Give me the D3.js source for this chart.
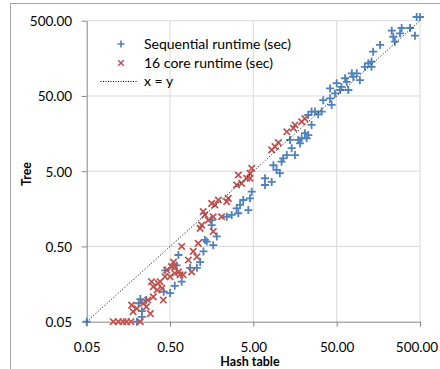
<!DOCTYPE html>
<html>
<head>
<meta charset="utf-8">
<script src="https://cdn.jsdelivr.net/npm/d3@7"></script>
<style>
  html, body { margin: 0; padding: 0; background: #fff; }
  svg { display: block; }
  text { font-family: Lato, "Open Sans", sans-serif; }
</style>
</head>
<body>
<svg id="chart" width="440" height="369"></svg>
<script>
// ---- data ----
const tickValues = [0.05, 0.5, 5, 50, 500];
const seriesNames = ["Sequential runtime (sec)", "16 core runtime (sec)", "x = y"];

const seqHash = [0.05,0.20,0.23,0.23,0.21,0.26,0.22,0.44,0.42,0.50,0.57,0.69,0.63,0.60,0.87,1.05,1.15,1.26,1.38,1.65,1.82,1.58,1.58,1.31,2.4,2.75,3.3,3.15,3.46,4.35,3.78,4.56,4.78,6.9,6.9,8.3,8.7,9.5,10.4,10.9,11.4,12.6,15.8,14.4,13.8,18.2,17.3,21.8,19,20.8,22.8,25,22.8,25,27.5,30,33,34.5,41.6,43.5,41.6,47.7,50,57,55,69,63,66,76,87,79,95,109,131,120,131,137,166,229,239,250,288,301,380,435,456,500];
const seqTree = [0.05,0.05,0.058,0.069,0.088,0.097,0.10,0.24,0.125,0.12,0.15,0.17,0.385,0.28,0.26,0.26,0.31,0.43,0.58,0.52,0.68,1.12,0.96,0.61,1.24,1.31,1.38,1.6,1.78,1.52,2.07,2.18,2.67,3.28,4.03,3.6,6.0,5.2,4.7,6.7,7.4,8.2,8.2,10.1,13,11.7,13,13.7,13.7,16,15.1,20.6,27.9,31,31,28.5,31,44,46.5,38,63,54,74,66,60,60,86,77,100,100,90,81,122,122,136,143,194,238,368,306,263,340,400,400,316,560,560];

const coreHash = [0.104,0.12,0.136,0.15,0.17,0.22,0.29,0.20,0.18,0.173,0.24,0.27,0.26,0.315,0.415,0.35,0.40,0.30,0.38,0.315,0.36,0.435,0.50,0.57,0.66,0.72,0.456,0.52,0.55,0.57,0.63,0.69,0.91,0.83,1.05,0.95,1.09,1.15,1.2,1.31,1.25,1.44,1.65,1.58,1.73,1.9,1.65,2.08,2.39,2.5,3.15,3.62,3.3,4.16,4.56,4.56,4.78,8.3,9.1,10,12.6,15.1,15.8,19,20.8];
const coreTree = [0.05,0.05,0.05,0.05,0.05,0.05,0.064,0.075,0.068,0.083,0.088,0.097,0.079,0.107,0.097,0.132,0.139,0.17,0.17,0.146,0.162,0.198,0.198,0.22,0.21,0.21,0.243,0.27,0.31,0.27,0.23,0.50,0.23,0.33,0.365,0.43,0.55,0.87,0.96,1.31,1.45,1.12,1.24,1.87,1.78,2.07,0.79,1.24,1.97,2.18,3.28,3.45,4.45,4.03,4.03,4.69,5.46,9.6,10.6,12,16.7,18.7,20.6,22.7,25];

const identityLine = [0.05, 500];

// ---- layout ----
const svg = d3.select("#chart");
const plot = { left: 86.7, right: 420, top: 20.7, bottom: 321.7 };
const blue = "#4F81BD", red = "#C0504D";

const x = d3.scaleLog().domain([0.05, 500]).range([plot.left, plot.right]);
const y = d3.scaleLog().domain([0.05, 500]).range([plot.bottom, plot.top]);
const fmt = d3.format(".2f");

// chart border
svg.append("rect").attr("x", 10.5).attr("y", 3.5).attr("width", 460).attr("height", 400)
  .attr("fill", "none").attr("stroke", "#a6a6a6").attr("stroke-width", 1);

// gridlines
const grid = svg.append("g");
grid.selectAll("line.v").data(tickValues.slice(1)).join("line")
  .attr("x1", d => x(d)).attr("x2", d => x(d))
  .attr("y1", plot.top).attr("y2", plot.bottom)
  .attr("stroke", "#d9d9d9").attr("stroke-width", 1);
grid.selectAll("line.h").data(tickValues.slice(1)).join("line")
  .attr("y1", d => y(d)).attr("y2", d => y(d))
  .attr("x1", plot.left).attr("x2", plot.right)
  .attr("stroke", "#d9d9d9").attr("stroke-width", 1);

// axes
const xAxis = svg.append("g").attr("transform", `translate(0,${plot.bottom})`)
  .call(d3.axisBottom(x).tickValues(tickValues).tickFormat(fmt).tickSize(5).tickSizeOuter(0));
const yAxis = svg.append("g").attr("transform", `translate(${plot.left},0)`)
  .call(d3.axisLeft(y).tickValues(tickValues).tickFormat(fmt).tickSize(5).tickSizeOuter(0));
[xAxis, yAxis].forEach(a => {
  a.select(".domain").attr("stroke", "#868686");
  a.selectAll(".tick line").attr("stroke", "#868686");
  a.selectAll(".tick text").attr("fill", "#000").style("font-size", "13.5px")
    .style("font-family", "Lato, 'Open Sans', sans-serif");
});
xAxis.selectAll(".tick text").attr("y", 30.5).attr("dy", 0);
xAxis.selectAll(".tick text").filter(d => d === 500).attr("dx", -3.5);
yAxis.selectAll(".tick text").attr("x", -14.5).attr("dy", "0.36em");

// axis titles
svg.append("text").attr("x", 250).attr("y", 366).attr("text-anchor", "middle")
  .style("font-size", "12.5px").style("font-weight", "bold").text("Hash table");
svg.append("text").attr("transform", "translate(31,174) rotate(-90)").attr("text-anchor", "middle")
  .style("font-size", "12.5px").style("font-weight", "bold").text("Tree");

// markers
const plusPath = "M-4,0H4M0,-4V4";
const crossPath = "M-3.2,-3.2L3.2,3.2M-3.2,3.2L3.2,-3.2";

const seq = seqHash.map((h, i) => ({ h, t: seqTree[i] }));
const core = coreHash.map((h, i) => ({ h, t: coreTree[i] }));

svg.append("g").selectAll("path").data(seq).join("path")
  .attr("transform", d => `translate(${x(d.h)},${y(d.t)})`)
  .attr("d", plusPath).attr("stroke", blue).attr("stroke-width", 1.8).attr("fill", "none");
svg.append("g").selectAll("path").data(core).join("path")
  .attr("transform", d => `translate(${x(d.h)},${y(d.t)})`)
  .attr("d", crossPath).attr("stroke", red).attr("stroke-width", 1.7).attr("fill", "none");

// x = y line
svg.append("line")
  .attr("x1", x(identityLine[0])).attr("y1", y(identityLine[0]))
  .attr("x2", x(identityLine[1])).attr("y2", y(identityLine[1]))
  .attr("stroke", "#000").attr("stroke-width", 1).attr("stroke-dasharray", "1,2");

// legend
const lg = svg.append("g");
lg.append("path").attr("transform", "translate(121,44)").attr("d", "M-3.5,0H3.5M0,-3.5V3.5")
  .attr("stroke", blue).attr("stroke-width", 1.6).attr("fill", "none");
lg.append("path").attr("transform", "translate(121,63)").attr("d", "M-2.8,-2.8L2.8,2.8M-2.8,2.8L2.8,-2.8")
  .attr("stroke", red).attr("stroke-width", 1.5).attr("fill", "none");
lg.append("line").attr("x1", 100.5).attr("x2", 137).attr("y1", 81.5).attr("y2", 81.5)
  .attr("stroke", "#000").attr("stroke-width", 1).attr("stroke-dasharray", "1,1.5");
seriesNames.forEach((n, i) => {
  lg.append("text").attr("x", 144).attr("y", 49 + i * 18.7)
    .style("font-size", "14px").attr("fill", "#000").text(n);
});
</script>
</body>
</html>
